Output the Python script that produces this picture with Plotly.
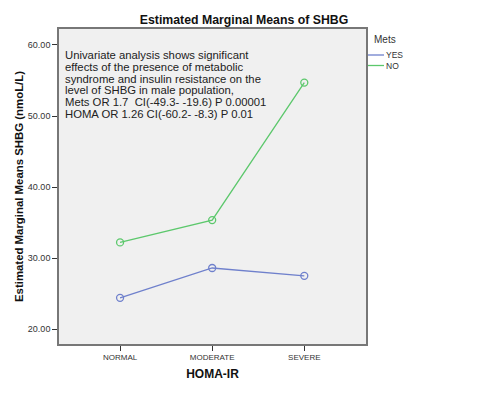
import plotly.graph_objects as go

categories = ["NORMAL", "MODERATE", "SEVERE"]
series_names = ["YES", "NO"]
yes_values = [24.4, 28.6, 27.5]
no_values = [32.2, 35.35, 54.7]
y_ticks = [20, 30, 40, 50, 60]
legend_title = "Mets"
note_lines = [
    "Univariate analysis shows significant",
    "effects of the presence of metabolic",
    "syndrome and insulin resistance on the",
    "level of SHBG in male population,",
    "Mets OR 1.7  CI(-49.3- -19.6) P 0.00001",
    "HOMA OR 1.26 CI(-60.2- -8.3) P 0.01",
]

blue = "#6f80cc"
green = "#5cc86c"
font = "Arial, Liberation Sans, sans-serif"

# page body has an 8px margin: work in window px and subtract it
OFF = 8
W, H = 490 - 2 * OFF, 393 - 2 * OFF
px_left, px_right, px_top, px_bottom = 59, 366, 29, 344
L = px_left - OFF
T = px_top - OFF
R = W - (px_right - OFF)
B = H - (px_bottom - OFF)
pw = px_right - px_left
ph = px_bottom - px_top


def paper_x(px):
    return (px - px_left) / pw


def paper_y(py):
    return 1 - (py - px_top) / ph


fig = go.Figure()
for name, vals, col in zip(series_names, [yes_values, no_values], [blue, green]):
    fig.add_trace(go.Scatter(
        x=categories, y=vals, mode="lines+markers", name=name,
        line=dict(color=col, width=1.3),
        marker=dict(symbol="circle-open", size=7, color=col, line=dict(width=1.3)),
        showlegend=False,
    ))

# note text
line_px = [55, 66.8, 78.6, 90.4, 102.2, 114]
for txt, py in zip(note_lines, line_px):
    fig.add_annotation(
        text=txt, xref="paper", yref="paper", x=paper_x(63), y=paper_y(py),
        xanchor="left", yanchor="middle", showarrow=False,
        font=dict(family=font, size=11.3, color="#222222"),
    )

# legend (SPSS style: short line + label)
fig.add_annotation(
    text=legend_title, xref="paper", yref="paper", x=paper_x(372), y=paper_y(39),
    xanchor="left", yanchor="middle", showarrow=False,
    font=dict(family=font, size=10, color="#333333"),
)
for name, col, py in zip(series_names, [blue, green], [55, 65.5]):
    fig.add_shape(type="line", xref="paper", yref="paper",
                  x0=paper_x(368), x1=paper_x(384), y0=paper_y(py), y1=paper_y(py),
                  line=dict(color=col, width=1.3))
    fig.add_annotation(
        text=name, xref="paper", yref="paper", x=paper_x(384), y=paper_y(py),
        xanchor="left", yanchor="middle", showarrow=False,
        font=dict(family=font, size=8.5, color="#333333"),
    )

fig.update_layout(
    width=W, height=H,
    margin=dict(l=L, r=R, t=T, b=B, autoexpand=False),
    paper_bgcolor="white", plot_bgcolor="#f0f0f0",
    title=dict(text="Estimated Marginal Means of SHBG", x=(244 - OFF) / W, xanchor="center",
               y=1 - (20 - OFF) / H, yanchor="middle",
               font=dict(family=font, size=12.3, color="#111111", weight="bold")),
    showlegend=False,
)
fig.update_xaxes(
    type="category", range=[-0.663, 2.67],
    showline=True, mirror=True, linecolor="#777777", linewidth=1.6,
    ticks="outside", ticklen=5, tickcolor="#333333", showgrid=False, zeroline=False,
    tickfont=dict(family=font, size=8, color="#333333"),
    title=dict(text="HOMA-IR", standoff=8,
               font=dict(family=font, size=12, color="#111111", weight="bold")),
    automargin=False,
)
fig.update_yaxes(
    range=[17.9, 62.25], tickvals=y_ticks, tickformat=".2f",
    showline=True, mirror=True, linecolor="#777777", linewidth=1.6,
    ticks="outside", ticklen=5, tickcolor="#333333", showgrid=False, zeroline=False,
    tickfont=dict(family=font, size=9, color="#333333"),
    title=dict(text="Estimated Marginal Means SHBG (nmoL/L)", standoff=2,
               font=dict(family=font, size=11.4, color="#111111", weight="bold")),
    automargin=False,
)
fig.write_html("out.html")
